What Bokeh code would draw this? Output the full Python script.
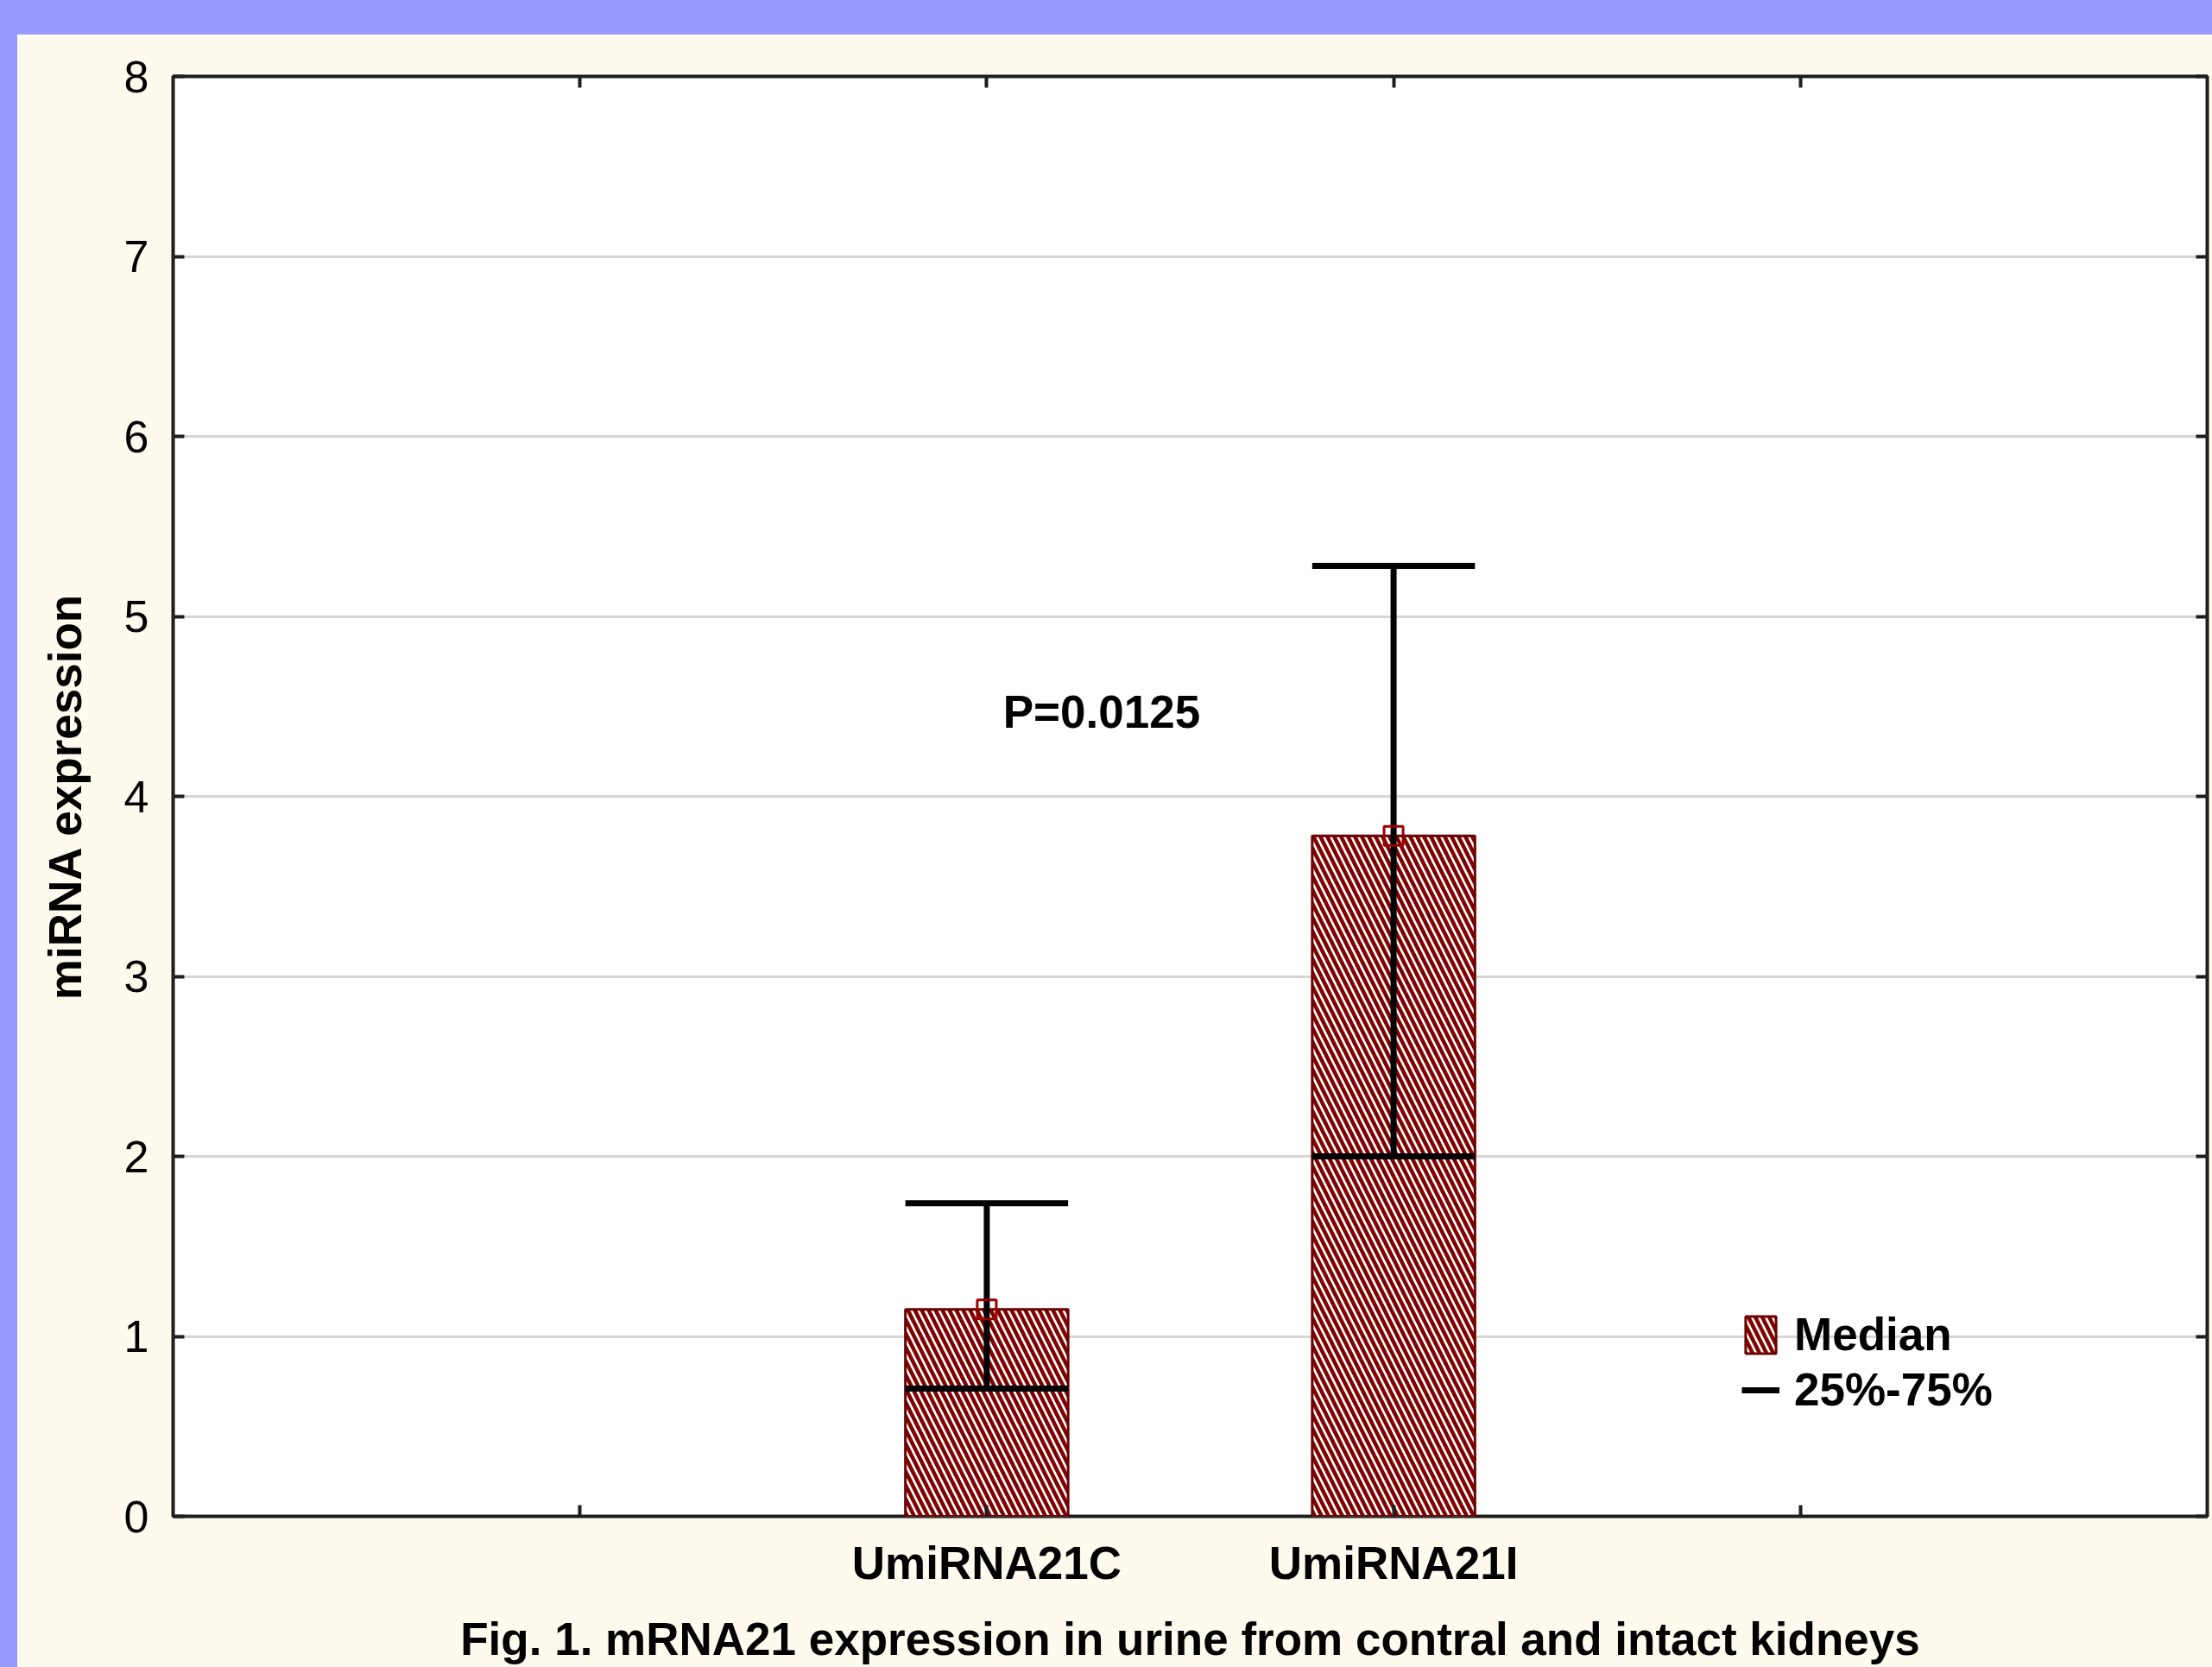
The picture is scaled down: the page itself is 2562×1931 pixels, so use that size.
from bokeh.plotting import figure
from bokeh.models import (ColumnDataSource, FactorRange, Range1d, CategoricalAxis, LinearAxis,
                          FixedTicker, Legend, LegendItem, Label, Div)
from bokeh.layouts import column, row
from bokeh.transform import dodge
from bokeh.embed import file_html
from bokeh.resources import INLINE

# ---- data ----
categories = ["UmiRNA21C", "UmiRNA21I"]
median = [1.15, 3.78]          # bar height
q25 = [0.71, 2.00]             # lower whisker (25%)
q75 = [1.74, 5.28]             # upper whisker (75%)
y_ticks = [0, 1, 2, 3, 4, 5, 6, 7, 8]
p_value_text = "P=0.0125"
caption_text = "Fig. 1. mRNA21 expression in urine from contral and intact kidneys"
y_label = "miRNA expression"
legend_labels = ["Median", "25%-75%"]

FONT = "Liberation Sans"
BOLD_SIZE = "53px"
CREAM = "#FFFAEE"
BLUE = "#9999FF"
HATCH_RED = "#800000"
EDGE_RED = "#6A0000"
TICK = "#1E1E1E"

factors = [" "] + categories + ["  "]
src = ColumnDataSource(dict(cat=categories, median=median, q25=q25, q75=q75))

p = figure(width=2542, height=1891,
           x_range=FactorRange(factors=factors, range_padding=0.25),
           y_range=Range1d(0, 8),
           output_backend="svg", toolbar_location=None,
           min_border_left=180, min_border_right=6, min_border_top=48, min_border_bottom=175)

p.border_fill_color = CREAM
p.background_fill_color = "white"
p.outline_line_color = TICK
p.outline_line_width = 4

p.xgrid.grid_line_color = None
p.ygrid.grid_line_color = "#D6D6D6"
p.ygrid.grid_line_width = 3

# bars (median)
bars = p.vbar(x="cat", top="median", bottom=0, width=0.4, source=src,
              fill_color="white", hatch_pattern="\\", hatch_color=HATCH_RED,
              hatch_scale=16, hatch_weight=4.5, line_color=EDGE_RED, line_width=3)

# whiskers (25%-75%)
stem = p.segment(x0="cat", y0="q25", x1="cat", y1="q75", source=src,
                 line_color="black", line_width=7)
cap_hi = p.segment(x0=dodge("cat", -0.2, range=p.x_range), y0="q75",
                   x1=dodge("cat", 0.2, range=p.x_range), y1="q75", source=src,
                   line_color="black", line_width=7)
cap_lo = p.segment(x0=dodge("cat", -0.2, range=p.x_range), y0="q25",
                   x1=dodge("cat", 0.2, range=p.x_range), y1="q25", source=src,
                   line_color="black", line_width=7)

# median point marker
p.scatter(x="cat", y="median", source=src, marker="square", size=22,
          fill_alpha=0, line_color="#990000", line_width=3)

# axes
def style_axis(ax, show_labels=True, bold=False):
    ax.major_tick_in = 13
    ax.major_tick_out = 0
    ax.major_tick_line_width = 4
    ax.major_tick_line_color = TICK
    ax.minor_tick_line_color = None
    ax.axis_line_color = None
    ax.major_label_text_font = FONT
    if show_labels:
        ax.major_label_text_color = "black"
        ax.major_label_text_font_size = BOLD_SIZE if bold else "52px"
        ax.major_label_text_font_style = "bold" if bold else "normal"
    else:
        ax.major_label_text_color = None
        ax.major_label_text_font_size = "1px"
        ax.major_label_standoff = 0

yax = p.yaxis[0]
yax.ticker = FixedTicker(ticks=y_ticks)
style_axis(yax)
yax.major_label_standoff = 28
yax.axis_label = y_label
yax.axis_label_text_font = FONT
yax.axis_label_text_font_size = BOLD_SIZE
yax.axis_label_text_font_style = "bold"
yax.axis_label_text_color = "black"
yax.axis_label_standoff = 36

xax = p.xaxis[0]
style_axis(xax, bold=True)
xax.major_label_standoff = 24
# figure caption sits centred under the x axis
xax.axis_label = caption_text
xax.axis_label_text_font = FONT
xax.axis_label_text_font_size = BOLD_SIZE
xax.axis_label_text_font_style = "bold"
xax.axis_label_text_color = "black"
xax.axis_label_standoff = 26

right_ax = LinearAxis(ticker=FixedTicker(ticks=y_ticks))
style_axis(right_ax, show_labels=False)
p.add_layout(right_ax, "right")

top_ax = CategoricalAxis()
style_axis(top_ax, show_labels=False)
p.add_layout(top_ax, "above")

# legend
legend = Legend(items=[LegendItem(label=legend_labels[0], renderers=[bars]),
                       LegendItem(label=legend_labels[1], renderers=[stem])],
                location=(1817, 116), orientation="vertical",
                background_fill_alpha=0, border_line_color=None,
                padding=0, margin=0, spacing=3,
                glyph_width=44, glyph_height=54, label_height=54, label_standoff=17,
                label_text_font=FONT, label_text_font_size=BOLD_SIZE,
                label_text_font_style="bold", label_text_color="black")
p.add_layout(legend)

# p-value annotation
p.add_layout(Label(x=1.54, y=4.47, text=p_value_text, text_align="left",
                   text_baseline="alphabetic", text_font=FONT, text_font_size=BOLD_SIZE,
                   text_font_style="bold", text_color="black"))

top_div = Div(text="", width=2562, height=40, margin=0,
              styles={"background-color": BLUE})
left_div = Div(text="", width=20, height=1891, margin=0,
               styles={"background-color": BLUE})
layout = column(top_div, row(left_div, p, spacing=0), spacing=0)

open("out.html", "w").write(file_html(layout, INLINE))
